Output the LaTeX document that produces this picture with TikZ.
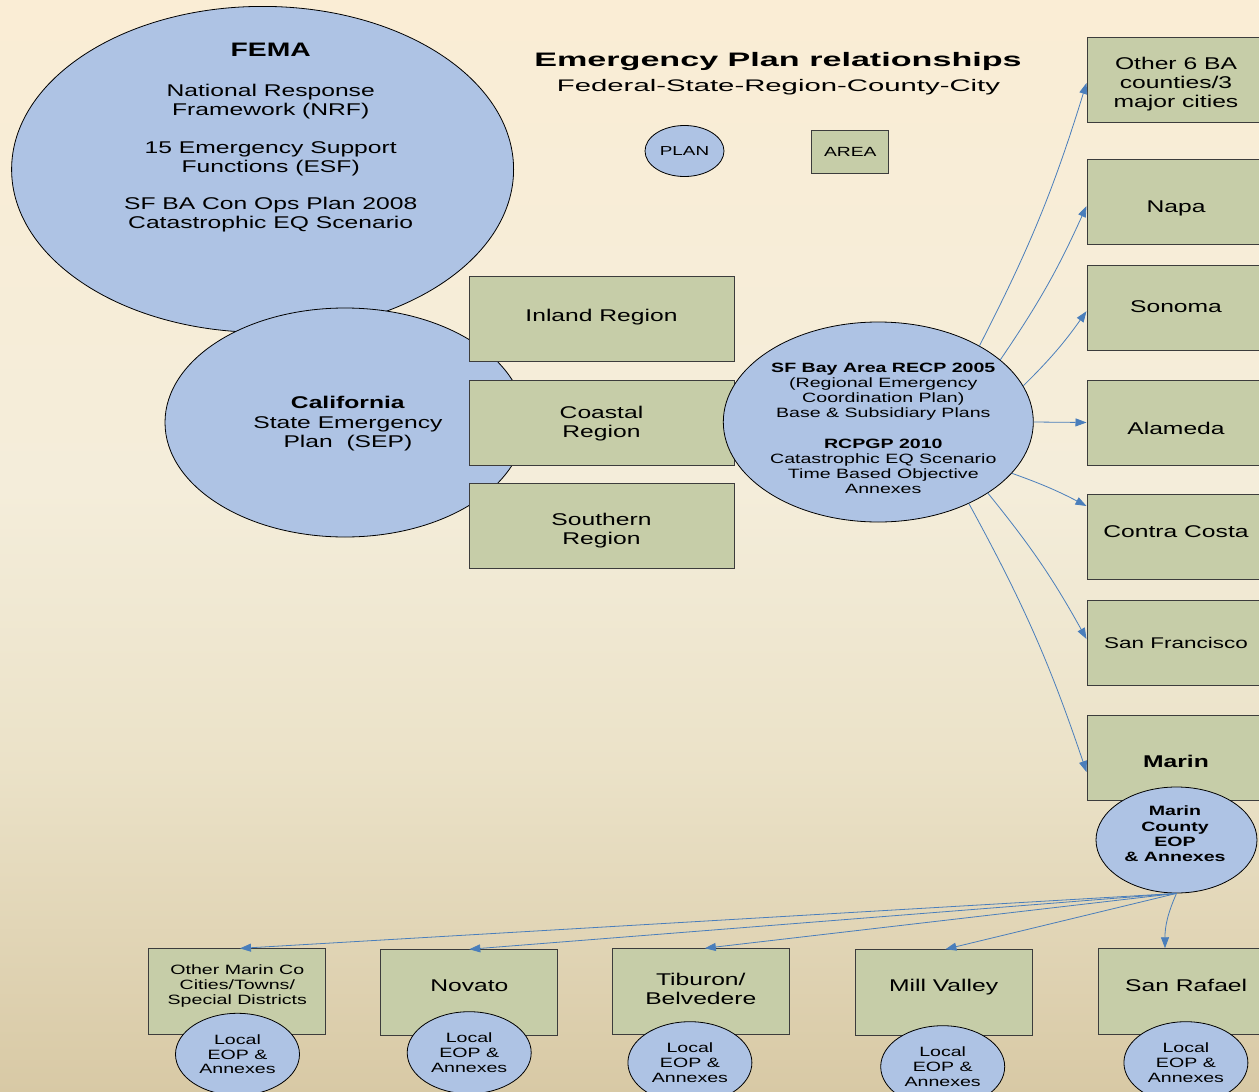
\documentclass[tikz,border=0pt]{standalone}
\usepackage{fontspec}
\newfontfamily\bodyf[FakeStretch=1.45]{Liberation Sans}
\newfontfamily\titlef[FakeStretch=1.75]{Liberation Sans}
\usetikzlibrary{shapes.geometric,arrows.meta}
\definecolor{bgtop}{HTML}{FAEDD5}
\definecolor{bgmidA}{HTML}{F4EDDA}
\definecolor{bgmidB}{HTML}{EBE2C8}
\definecolor{bgbot}{HTML}{D8C9A5}
\definecolor{planblue}{HTML}{AEC3E4}
\definecolor{areagreen}{HTML}{C6CDA8}
\definecolor{linkblue}{HTML}{4A7EBB}
\definecolor{boxedge}{HTML}{3C3C3C}
\pgfdeclareverticalshading{bgshade}{100bp}{color(0bp)=(bgbot); color(25bp)=(bgbot); color(40bp)=(bgmidB); color(52.5bp)=(bgmidA); color(75bp)=(bgtop); color(100bp)=(bgtop)}
\begin{document}
\begin{tikzpicture}[x=1pt,y=-1pt,
  plan/.style={ellipse,draw=black,line width=0.8pt,fill=planblue,inner sep=0pt,align=center},
  area/.style={rectangle,draw=boxedge,line width=1pt,fill=areagreen,inner sep=0pt},
  rbox/.style={area,minimum width=178pt,minimum height=85pt},
  bbox/.style={area,minimum width=177pt,minimum height=85.5pt},
  localeop/.style={plan,minimum width=124pt,minimum height=82pt,font=\bodyf\fontsize{13.5}{14.8}\selectfont},
  txt/.style={inner sep=0pt,align=center,text=black},
  fbig/.style={font=\bodyf\fontsize{17}{18.5}\selectfont},
  fbigb/.style={font=\bodyf\fontsize{17}{19}\selectfont},
  fsmall/.style={font=\bodyf\fontsize{13.5}{15.2}\selectfont},
  link/.style={draw=linkblue,line width=0.8pt,-{Triangle[length=11pt,width=8pt]}}
]
\useasboundingbox (0,0) rectangle (1259,1092);
\fill[shading=bgshade] (0,0) rectangle (1259,1092);

% FEMA
\node[plan,minimum width=502pt,minimum height=326pt] (fema) at (262.6,169.4) {};
\node[txt,fbig] (femaT) at (270.7,137.7) {{\fontsize{19.5}{18.5}\selectfont\bfseries FEMA}\\[21.3pt]National Response\\Framework (NRF)\\[20.2pt]15 Emergency Support\\Functions (ESF)\\[19.2pt]SF BA Con Ops Plan 2008\\Catastrophic EQ Scenario};

% California
\node[plan,minimum width=360pt,minimum height=229pt] (ca) at (345,422.5) {};
\node[txt,font=\bodyf\fontsize{17}{19.5}\selectfont] (caT) at (347.9,424) {\textbf{California}\\State Emergency\\Plan\ \ (SEP)};

% Regions
\node[area,minimum width=265pt,minimum height=85pt] (inland) at (601.5,319.2) {};
\node[area,minimum width=265pt,minimum height=85pt] (coastal) at (601.5,422.5) {};
\node[area,minimum width=265pt,minimum height=85pt] (southern) at (601.5,525.8) {};
\node[txt,fbigb] (inlandT) at (601.5,317.1) {Inland Region};
\node[txt,fbigb] (coastalT) at (601.5,423.9) {Coastal\\Region};
\node[txt,fbigb] (southernT) at (601.5,530.5) {Southern\\Region};

% Regional plan
\node[plan,minimum width=310pt,minimum height=200pt] (recp) at (878.3,422) {};
\node[txt,fsmall] (recpT) at (883.3,428.5) {\textbf{SF Bay Area RECP 2005}\\(Regional Emergency\\Coordination Plan)\\Base \& Subsidiary Plans\\[15.2pt]\textbf{RCPGP 2010}\\Catastrophic EQ Scenario\\Time Based Objective\\Annexes};

% Title
\node[txt,font=\titlef\bfseries\fontsize{19.5}{22}\selectfont,anchor=base] (title) at (778,66.7) {Emergency Plan relationships};
\node[txt,font=\titlef\fontsize{16.75}{20}\selectfont,anchor=base] (subtitle) at (778.5,91) {Federal-State-Region-County-City};

% Legend
\node[plan,minimum width=79pt,minimum height=51pt,font=\bodyf\fontsize{13}{15}\selectfont] (legplan) at (684.5,151) {PLAN};
\node[area,minimum width=77pt,minimum height=43pt,font=\bodyf\fontsize{13.3}{15}\selectfont] (legarea) at (850.3,151.7) {AREA};

% Counties
\node[rbox] (other6) at (1176,80.3) {};
\node[rbox] (napa) at (1176,201.5) {};
\node[rbox] (sonoma) at (1176,308.2) {};
\node[rbox] (alameda) at (1176,422.5) {};
\node[rbox] (contra) at (1176,536.6) {};
\node[rbox] (sf) at (1176,643.2) {};
\node[rbox] (marin) at (1176,757.5) {};
\node[txt,fbigb] (other6T) at (1176,84.6) {Other 6 BA\\counties/3\\major cities};
\node[txt,fbigb] (napaT) at (1176,208.8) {Napa};
\node[txt,fbigb] (sonomaT) at (1176,307) {Sonoma};
\node[txt,fbigb] (alamedaT) at (1176,428.9) {Alameda};
\node[txt,fbigb] (contraT) at (1176,532) {Contra Costa};
\node[txt,font=\bodyf\fontsize{15.5}{18}\selectfont] (sfT) at (1176,642.9) {San Francisco};
\node[txt,font=\bodyf\bfseries\fontsize{17}{19}\selectfont] (marinT) at (1176,761) {Marin};

% Marin County EOP
\node[plan,minimum width=161pt,minimum height=106pt] (meop) at (1176.5,840) {};
\node[txt,font=\bodyf\bfseries\fontsize{13.5}{15.4}\selectfont] (meopT) at (1175,834) {Marin\\County\\EOP\\\& Annexes};

% Cities
\node[bbox] (othermarin) at (237.3,991.6) {};
\node[bbox] (novato) at (469.3,992.5) {};
\node[bbox] (tiburon) at (700.8,991.5) {};
\node[bbox] (mill) at (943.8,992.5) {};
\node[bbox] (sr) at (1186.8,991.5) {};
\node[txt,font=\bodyf\fontsize{13.5}{15}\selectfont] (othermarinT) at (237.3,986.3) {Other Marin Co\\Cities/Towns/\\Special Districts};
\node[txt,fbigb] (novatoT) at (469.3,985.6) {Novato};
\node[txt,font=\bodyf\fontsize{17}{19.3}\selectfont] (tiburonT) at (700.8,988.6) {Tiburon/\\Belvedere};
\node[txt,fbigb] (millT) at (943.6,987.4) {Mill Valley};
\node[txt,fbigb] (srT) at (1186.2,985.6) {San Rafael};

% Local EOPs
\node[localeop] (l1) at (237.5,1054.3) {Local\\EOP \&\\Annexes};
\node[localeop] (l2) at (469.2,1052.7) {Local\\EOP \&\\Annexes};
\node[localeop] (l3) at (689.9,1062.7) {Local\\EOP \&\\Annexes};
\node[localeop] (l4) at (942.7,1066.7) {Local\\EOP \&\\Annexes};
\node[localeop] (l5) at (1185.9,1062.7) {Local\\EOP \&\\Annexes};

% Connectors
\draw[link] (recp.37) to[bend right=5] ([yshift=-2.7pt]other6.west);
\draw[link] (recp.27) to[bend right=5] ([yshift=-4.5pt]napa.west);
\draw[link] (recp.14) to[bend right=5] ([yshift=-3pt]sonoma.west);
\draw[link] (recp.0) -- (alameda.west);
\draw[link] (recp.-21) to[bend left=4] ([yshift=30.6pt]contra.west);
\draw[link] (recp.-33) to[bend left=5] ([yshift=4.2pt]sf.west);
\draw[link] (recp.-42) to[bend left=5] ([yshift=-14.5pt]marin.west);

\draw[link] (meop.south) -- ([xshift=2.7pt]othermarin.north);
\draw[link] (meop.south) -- (novato.north);
\draw[link] (meop.south) -- ([xshift=4pt]tiburon.north);
\draw[link] (meop.south) -- ([xshift=1.6pt]mill.north);
\draw[link] (meop.south) to[bend right=12] ([xshift=-21.8pt]sr.north);
\end{tikzpicture}
\end{document}
